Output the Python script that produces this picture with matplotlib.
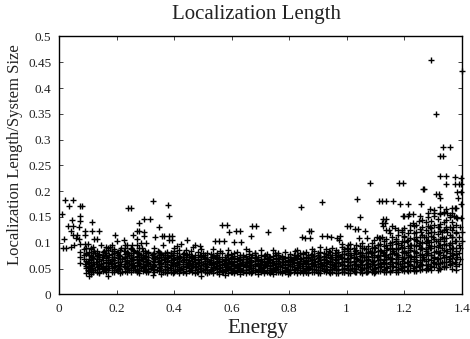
import matplotlib
matplotlib.use("Agg")
import matplotlib.pyplot as plt

plt.rcParams['font.family'] = ['Liberation Serif', 'DejaVu Serif']

x_ticks = [0, 0.2, 0.4, 0.6, 0.8, 1, 1.2, 1.4]
y_ticks = [0, 0.05, 0.1, 0.15, 0.2, 0.25, 0.3, 0.35, 0.4, 0.45, 0.5]

# isolated points
iso_energy = [.01,.02,.034,.047,.073,.081,.044,.073,.073,.031,.047,.069,.04,.115,.09,.116,.138,.049,.063,.09,.017,.123,.133,.07,.058,
 .014,.026,.04,.051,.072,.09,.101,.194,.165,.177,.2,.226,.241,.252,.328,.38,.384,.279,.297,.316,.349,.27,.279,.297,.256,.297,.334,.357,.366,.381,.392,
 .27,.285,.302,.363,.381,.392,.444,.423,.41,.566,.583,.592,.616,.628,.543,.555,.574,.61,.632,.466,.49,.473,
 .67,.685,.666,.727,.78,.843,.915,1.035,1.047,1.0,1.012,1.03,1.038,1.065,.875,.868,.846,.856,.873,.914,.93,.945,.978,.966,.975,1.042,1.07,1.105,1.122,1.113,
 1.082,1.181,1.195,1.27,1.264,1.309,1.32,1.326,1.26,1.111,1.123,1.137,1.161,1.187,1.213,
 1.128,1.137,1.122,1.134,1.128,1.2,1.217,1.231,1.195,1.212,1.29,1.302,1.284,1.302,1.326,1.365,1.378,1.326,1.338,1.35,1.36,1.372,1.384,1.396,
 1.254,1.252,1.231,1.22,1.156,1.168,1.18,1.192,1.136,1.148,
 1.326,1.346,1.378,1.396,1.347,1.378,1.39,1.399,1.384,1.396,1.387,1.396,1.2917,1.4,1.311,1.336,1.358,1.323,1.336]
iso_length = [.156,.183,.171,.183,.171,.171,.144,.143,.151,.133,.133,.131,.123,.141,.123,.123,.123,.115,.115,.115,.107,.108,.108,.108,.11,
 .09,.089,.092,.095,.098,.097,.097,.115,.092,.092,.104,.105,.168,.168,.18,.173,.152,.138,.146,.146,.131,.122,.122,.12,.115,.113,.112,.113,.113,.114,.114,
 .107,.1,.1,.095,.105,.105,.105,.097,.094,.134,.134,.12,.122,.122,.104,.104,.104,.101,.102,.092,.093,.095,
 .132,.132,.113,.12,.129,.17,.179,.184,.149,.133,.133,.126,.126,.122,.1235,.122,.112,.109,.109,.114,.114,.112,.113,.109,.106,.109,.109,.112,.112,.109,
 .215,.2165,.2165,.204,.204,.194,.194,.187,.176,.181,.181,.181,.181,.175,.175,
 .146,.146,.139,.139,.133,.151,.156,.156,.151,.151,.165,.163,.157,.157,.17,.167,.167,.157,.157,.157,.154,.151,.148,.148,
 .151,.142,.138,.134,.132,.128,.125,.125,.125,.125,
 .23,.23,.227,.226,.213,.213,.213,.213,.199,.199,.187,.176,.454,.4327,.349,.286,.286,.269,.269]

# dense band, grouped by energy column
band_energy = [.072,.086,.094,.103,.112,.118,.131,.139,.152,.163,.171,.184,.192,.206,.213,.228,.236,.249,.258,.271,.279,.292,.303,.311,.326,.332,.347,.354,.368,.376,.389,.397,.411,.418,.432,.441,.452,.463,.473,.484,.492,.506,.513,.527,.534,.548,.556,.567,.576,.589,.597,.608,.619,.628,.641,.649,.662,.669,.683,.691,.703,.712,.724,.733,.744,.755,.763,.776,.784,.797,.804,.818,.826,.838,.847,.859,.867,.879,.888,.9,.908,.921,.929,.942,.95,.963,.971,.983,.992,1.004,1.012,1.025,1.033,1.046,1.054,1.067,1.075,1.087,1.096,1.108,1.116,1.129,1.137,1.15,1.158,1.171,1.179,1.191,1.2,1.212,1.22,1.233,1.241,1.254,1.262,1.275,1.283,1.295,1.304,1.316,1.324,1.337,1.345,1.358,1.366,1.379,1.387,1.396]
band_length = [
 [.06,.072,.083],[.068,.076,.088],[.042,.055,.064,.078,.09],[.035,.046,.052,.061,.069,.083],[.04,.05,.057,.066,.074,.087],[.043,.048,.058,.063,.071,.08,.091],
 [.044,.053,.059,.068,.075,.084],[.042,.049,.056,.064,.072,.079],[.046,.052,.06,.067,.076,.082],[.044,.05,.055,.063,.07,.074,.081],[.035,.047,.054,.061,.066,.073,.086],[.043,.051,.058,.064,.069,.078,.084],
 [.048,.053,.06,.066,.072,.08,.088],[.045,.05,.057,.062,.07,.076,.083],[.041,.049,.055,.063,.068,.075,.086],[.046,.052,.059,.065,.071,.079,.09],[.044,.05,.054,.061,.067,.074,.082,.095],[.043,.051,.057,.064,.07,.077,.087],
 [.047,.052,.06,.066,.073,.08,.085],[.045,.05,.056,.062,.069,.075,.083],[.042,.048,.054,.06,.067,.072,.079,.09],[.046,.053,.058,.065,.071,.077,.084],[.044,.05,.056,.063,.068,.074,.08],[.045,.049,.055,.061,.066,.073,.082],
 [.037,.048,.053,.059,.065,.07,.078],[.043,.05,.057,.062,.069,.075,.081],[.046,.052,.058,.064,.07,.076,.083],[.04,.047,.054,.06,.066,.072,.078],[.043,.05,.055,.062,.068,.073,.08],[.041,.048,.053,.059,.065,.071,.077,.083],
 [.044,.051,.057,.063,.067,.074,.081],[.042,.047,.054,.06,.066,.07,.076],[.045,.05,.056,.061,.068,.073,.08],[.041,.048,.052,.059,.064,.07,.075,.085],[.044,.05,.055,.062,.067,.072,.078],[.042,.046,.053,.058,.063,.069,.076,.086],
 [.045,.051,.056,.061,.066,.073,.079],[.043,.048,.054,.059,.065,.07,.075],[.041,.047,.052,.058,.063,.069,.077],[.044,.05,.055,.06,.067,.072,.083],[.035,.046,.051,.057,.062,.068,.074,.088],[.043,.049,.054,.06,.065,.07,.076],
 [.042,.047,.053,.058,.064,.069,.08],[.045,.05,.056,.061,.066,.072,.078],[.041,.048,.052,.059,.063,.07,.075,.087],[.044,.049,.055,.06,.065,.071,.077],[.04,.046,.051,.057,.062,.068,.073],[.043,.048,.053,.058,.064,.069,.081],
 [.037,.045,.05,.056,.061,.067,.072],[.042,.047,.052,.059,.063,.069,.076,.085],[.044,.049,.054,.06,.065,.071,.078],[.041,.046,.051,.057,.062,.068,.074],[.043,.048,.053,.058,.064,.07,.083],[.04,.045,.05,.056,.061,.066,.073],
 [.043,.048,.054,.059,.063,.069,.076],[.041,.047,.052,.057,.062,.068,.074,.087],[.044,.049,.053,.06,.065,.071,.078],[.042,.046,.051,.056,.062,.067,.073],[.043,.048,.054,.058,.064,.07,.081],[.04,.045,.05,.056,.061,.066,.072],
 [.043,.049,.053,.059,.064,.069,.077,.086],[.041,.046,.052,.057,.062,.068,.074],[.044,.048,.054,.06,.065,.07,.079],[.042,.047,.051,.056,.063,.067,.073],[.04,.046,.05,.057,.061,.068,.075,.085],[.043,.048,.053,.059,.064,.07,.076],
 [.044,.049,.054,.06,.065,.071,.08],[.041,.046,.052,.057,.063,.069,.075],[.043,.048,.053,.058,.064,.07,.082],[.04,.045,.05,.056,.062,.067,.073],[.042,.048,.054,.059,.065,.072,.079],[.044,.049,.053,.06,.066,.071,.077],
 [.041,.047,.052,.057,.063,.069,.075,.085],[.043,.048,.054,.06,.065,.07,.08],[.042,.046,.051,.058,.064,.071,.078],[.044,.05,.055,.061,.067,.073,.083],[.041,.047,.053,.058,.064,.07,.076],[.043,.049,.054,.06,.066,.072,.079,.087],
 [.044,.05,.056,.062,.068,.074,.084],[.042,.048,.053,.059,.065,.071,.077],[.041,.047,.054,.06,.066,.073,.082,.092],[.045,.05,.056,.062,.069,.075,.08],[.043,.049,.055,.061,.067,.072,.078,.088],[.042,.048,.053,.059,.065,.071,.083],
 [.044,.05,.056,.063,.069,.076,.09],[.041,.047,.054,.06,.066,.073,.08,.086],[.042,.049,.055,.061,.068,.074,.082],[.043,.05,.056,.063,.07,.078,.092,.097],[.044,.05,.057,.064,.071,.079,.087],[.042,.048,.055,.062,.069,.076,.084,.095],
 [.041,.049,.056,.063,.07,.077,.087,.098],[.045,.051,.058,.065,.072,.08,.09],[.043,.05,.057,.064,.071,.079,.086,.096],[.044,.052,.059,.066,.074,.082,.094],[.042,.049,.056,.064,.072,.081,.09,.1],[.043,.051,.058,.066,.073,.08,.088],
 [.046,.053,.06,.067,.075,.083,.093],[.044,.05,.058,.065,.072,.08,.09,.1],[.041,.049,.057,.064,.073,.082,.092,.105],[.045,.052,.059,.067,.075,.084,.095],[.046,.053,.061,.069,.077,.086,.098,.11],[.043,.05,.058,.066,.074,.083,.093,.104],
 [.044,.052,.06,.068,.076,.085,.096,.107],[.046,.054,.062,.07,.079,.088,.099,.118],[.047,.055,.063,.071,.08,.09,.101,.112],[.044,.052,.06,.069,.078,.087,.097,.108],[.043,.05,.059,.068,.077,.088,.1,.115],[.047,.055,.064,.073,.082,.092,.104,.12],
 [.046,.053,.061,.07,.08,.09,.102,.114,.128],[.045,.054,.063,.072,.082,.093,.106,.119],[.048,.056,.065,.075,.085,.096,.11,.125],[.046,.055,.064,.074,.084,.095,.107,.118,.132],[.045,.053,.062,.072,.083,.094,.105,.12,.135],[.047,.056,.066,.077,.088,.1,.112,.126],
 [.049,.057,.067,.078,.09,.102,.115,.13,.145],[.048,.056,.065,.076,.087,.099,.112,.125,.14],[.05,.058,.068,.08,.092,.105,.118,.133,.15],[.047,.055,.066,.077,.089,.101,.114,.128,.143],[.052,.06,.07,.082,.094,.107,.12,.135,.152],[.048,.058,.069,.08,.092,.104,.116,.13,.147],
 [.05,.06,.071,.083,.095,.108,.122,.137,.155],[.052,.062,.073,.085,.098,.11,.125,.14,.16],[.053,.062,.072,.084,.096,.11,.127,.145,.165],[.056,.064,.075,.088,.1,.115,.13,.15],[.05,.06,.07,.08,.09,.1,.112,.125,.14,.158],[.047,.058,.068,.079,.09,.103,.118,.135,.15,.167],
]

# further band points, grouped by length level
row_length = [.0435,.0475,.0515,.0555,.0595,.0635,.0675,.0715,.0755,.0795,.0845,.0905,.0965,.104,.112,.121,.131]
row_energy = [
 [.11,.14,.19,.22,.27,.31,.36,.4,.43,.48,.52,.57,.6,.64,.67,.73,.77,.8,.86,.9,.94,.99,1.03,1.07,1.1,1.15],
 [.1,.125,.16,.2,.245,.265,.3,.34,.38,.42,.455,.5,.53,.58,.61,.65,.7,.74,.79,.82,.85,.895,.93,.97,1.01,1.05,1.09,1.13,1.17,1.21,1.24],
 [.095,.115,.15,.175,.21,.24,.285,.32,.35,.385,.425,.46,.49,.535,.56,.595,.63,.675,.71,.75,.785,.83,.87,.915,.955,.99,1.02,1.06,1.1,1.14,1.19,1.23,1.28,1.32],
 [.105,.135,.165,.195,.225,.26,.295,.33,.37,.405,.44,.475,.51,.545,.585,.62,.66,.695,.735,.77,.81,.845,.885,.92,.96,1.0,1.04,1.08,1.12,1.16,1.2,1.25,1.29,1.34,1.38],
 [.09,.12,.145,.18,.215,.25,.28,.315,.355,.395,.43,.465,.5,.54,.575,.605,.645,.68,.72,.76,.795,.835,.875,.91,.95,.985,1.03,1.07,1.11,1.15,1.185,1.22,1.26,1.31,1.36,1.39],
 [.1,.13,.17,.205,.235,.275,.305,.345,.375,.41,.45,.485,.525,.555,.59,.635,.665,.705,.74,.78,.815,.855,.89,.93,.97,1.01,1.05,1.09,1.125,1.17,1.21,1.245,1.3,1.33,1.375],
 [.11,.14,.185,.22,.255,.29,.335,.365,.4,.435,.47,.515,.55,.58,.625,.655,.69,.725,.765,.805,.84,.88,.92,.96,1.0,1.035,1.075,1.115,1.155,1.195,1.235,1.27,1.315,1.355,1.395],
 [.115,.15,.19,.23,.27,.3,.34,.38,.42,.46,.505,.545,.6,.64,.685,.73,.775,.82,.865,.905,.945,.98,1.025,1.06,1.105,1.145,1.18,1.225,1.265,1.305,1.345,1.385],
 [.105,.135,.175,.21,.245,.285,.325,.36,.395,.445,.49,.535,.585,.63,.67,.715,.76,.83,.875,.935,.97,1.015,1.055,1.095,1.135,1.175,1.215,1.255,1.295,1.335,1.37],
 [.095,.125,.16,.2,.24,.275,.31,.35,.39,.435,.5,.55,.61,.68,.75,.85,.9,.96,1.005,1.045,1.085,1.125,1.165,1.205,1.24,1.28,1.32,1.36,1.39],
 [.12,.155,.19,.225,.26,.3,.345,.4,.46,.56,.66,.82,.94,.99,1.03,1.08,1.12,1.16,1.2,1.235,1.275,1.31,1.35,1.38],
 [.11,.17,.215,.25,.29,.33,.4,1.0,1.06,1.1,1.14,1.18,1.22,1.26,1.29,1.33,1.37,1.395],
 [.145,.185,.23,.255,.27,1.11,1.15,1.19,1.225,1.25,1.285,1.32,1.355,1.39],
 [1.17,1.21,1.245,1.28,1.31,1.34,1.375,1.4],
 [1.2,1.24,1.27,1.3,1.33,1.365,1.39],
 [1.26,1.295,1.33,1.35,1.38,1.4],
 [1.29,1.32,1.345,1.37,1.395],
]

col_pts = [(x, y) for x, ys in zip(band_energy, band_length) for y in ys]
row_pts = [(x, y) for y, xs in zip(row_length, row_energy) for x in xs]

fig = plt.figure(figsize=(4.7, 3.39), dpi=100)
ax = fig.add_axes([59/470, 1 - 294.3/339, (461.7 - 59)/470, (294.3 - 36.5)/339])
mk = dict(ls='none', marker='+', ms=4.4, mew=1.0, color='black', clip_on=False)
ax.plot([p[0] for p in col_pts], [p[1] for p in col_pts], **mk)
ax.plot([p[0] for p in row_pts], [p[1] for p in row_pts], **mk)
ax.plot(iso_energy, iso_length, **mk)

ax.set_xlim(0, 1.4)
ax.set_ylim(0, 0.5)
ax.set_xticks(x_ticks)
ax.set_xticklabels(['0', '0.2', '0.4', '0.6', '0.8', '1', '1.2', '1.4'])
ax.set_yticks(y_ticks)
ax.set_yticklabels(['0', '0.05', '0.1', '0.15', '0.2', '0.25', '0.3', '0.35', '0.4', '0.45', '0.5'])
ax.tick_params(direction='in', top=True, right=True, length=3, width=0.6, labelsize=9.5, colors='#222222')
ax.tick_params(axis='x', pad=6)
ax.tick_params(axis='y', pad=5.5)
for s in ax.spines.values():
    s.set_linewidth(1.0)
fig.text(257/470, 1 - 14/339, 'Localization Length', ha='center', va='center', fontsize=15, color='#222222')
fig.text(258/470, 1 - 329/339, 'Energy', ha='center', va='center', fontsize=15.3, color='#222222')
fig.text(15/470, 1 - 155/339, 'Localization Length/System Size', rotation=90, ha='center', va='center', fontsize=12, color='#222222')
fig.savefig('out.png', dpi=100)
